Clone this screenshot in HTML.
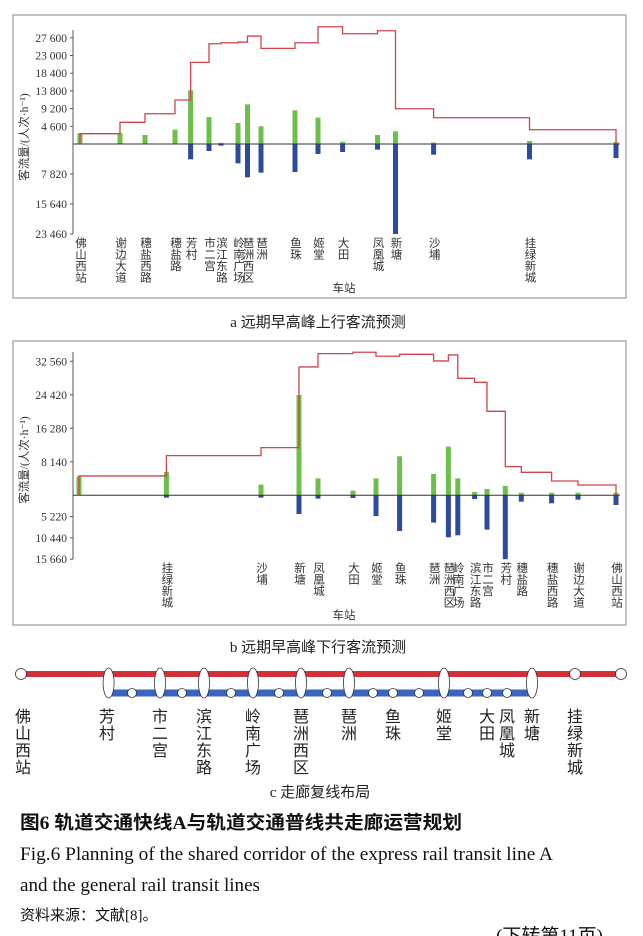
<!DOCTYPE html>
<html><head><meta charset="utf-8">
<style>
html,body{margin:0;padding:0;background:#fff;}
body{width:643px;height:936px;overflow:hidden;position:relative;font-family:"Liberation Serif","Noto Serif CJK SC","Noto Sans CJK SC",serif;}
svg{position:absolute;left:0;top:0;}
.cn{font-family:"Liberation Serif","Noto Sans CJK SC",sans-serif;}
</style></head>
<body>
<svg id="svg" width="643" height="936" viewBox="0 0 643 936"></svg>
<script>
// ---------- Chart a data (up direction) ----------
const aStations = ["佛山西站","谢边大道","穗盐西路","穗盐路","芳村","市二宫","滨江东路","岭南广场","琶洲西区","琶洲","鱼珠","姬堂","大田","凤凰城","新塘","沙埔","挂绿新城",""];
const aBoard = [2780,2900,2340,3710,13950,7010,300,5450,10300,4600,8750,6830,600,2340,3300,400,780,500];
const aAlight = [0,0,0,0,3990,1820,430,5040,8690,7470,7300,2600,2090,1480,23460,2780,4000,3650];
const aSection = [2680,5640,7870,11430,21220,26050,26320,26490,28050,24860,26320,30480,28660,29440,9170,6830,3710];
const aUpTicks = [4600,9200,13800,18400,23000,27600];
const aDownTicks = [7820,15640,23460];
const aUpTickLabels = ["4 600","9 200","13 800","18 400","23 000","27 600"];
const aDownTickLabels = ["7 820","15 640","23 460"];
// ---------- Chart b data (down direction) ----------
const bStations = ["","挂绿新城","沙埔","新塘","凤凰城","大田","姬堂","鱼珠","琶洲","琶洲西区","岭南广场","滨江东路","市二宫","芳村","穗盐路","穗盐西路","谢边大道","佛山西站"];
const bBoard = [4540,5670,2590,24380,4130,1130,4130,9480,5180,11830,4130,800,1540,2270,600,600,600,600];
const bAlight = [0,570,570,4570,820,650,5060,8740,6700,10290,9800,900,8410,15660,1550,1960,1060,2370];
const bSection = [4700,9640,11580,31190,34430,34750,33780,34260,32650,34100,28430,27460,20410,6970,5590,3480,2510];
const bUpTicks = [8140,16280,24420,32560];
const bDownTicks = [5220,10440,15660];
const bUpTickLabels = ["8 140","16 280","24 420","32 560"];
const bDownTickLabels = ["5 220","10 440","15 660"];

// station x positions (layout, px)
const aX=[80,120,145,175,190.6,209,221,238,247.5,261,295,318,342.6,377.5,395.5,433.6,529.5,616];
const bX=[79,166.4,261,299,318,353,376,399.6,433.6,448.4,457.8,474.6,487,505.3,521.3,551.6,578,616];

const NS="http://www.w3.org/2000/svg";
const svg=document.getElementById('svg');
function mk(tag,attrs,parent){const e=document.createElementNS(NS,tag);for(const k in attrs)e.setAttribute(k,attrs[k]);(parent||svg).appendChild(e);return e;}

function drawChart(id,frame,zeroY,upScale,downScale,xs,stations,board,alight,section,upT,upL,downT,downL,axisTop,axisBottom,titleY,xTitleY,capY,caption){
  const g=mk('g',{});
  
  
  const fr=mk('rect',{x:frame[0],y:frame[1],width:frame[2],height:frame[3],fill:'#fff',stroke:'#9a9a9a','stroke-width':1.2},g);
  
  
  const yU=v=>zeroY-v*upScale, yD=v=>zeroY+v*downScale;
  const ax=mk('line',{x1:73,y1:axisTop,x2:73,y2:axisBottom,stroke:'#555','stroke-width':1},g);
  
  
  upT.forEach((v,i)=>{
    mk('line',{x1:70,y1:yU(v),x2:73,y2:yU(v),stroke:'#555'},g);
    const t=mk('text',{x:67,y:yU(v)+4,'text-anchor':'end','font-size':11.5,fill:'#333'},g);t.textContent=upL[i];
    
    
  });
  downT.forEach((v,i)=>{
    mk('line',{x1:70,y1:yD(v),x2:73,y2:yD(v),stroke:'#555'},g);
    const t=mk('text',{x:67,y:yD(v)+4,'text-anchor':'end','font-size':11.5,fill:'#333'},g);t.textContent=downL[i];
    
    
  });
  xs.forEach((x,i)=>{
    if(board[i]>0){const r=mk('rect',{x:x-2.5,y:yU(board[i]),width:5,height:board[i]*upScale,fill:'#6cc04a'},g);
      
      }
    if(alight[i]>0){const r=mk('rect',{x:x-2.5,y:zeroY,width:5,height:alight[i]*downScale,fill:'#2d4b9c'},g);
      
      }
  });
  const zl=mk('line',{x1:73,y1:zeroY,x2:frame[0]+frame[2]-6,y2:zeroY,stroke:'#333','stroke-width':1},g);
  
  
  let d='M'+xs[0]+' '+zeroY;
  section.forEach((v,i)=>{d+=' L'+xs[i]+' '+yU(v)+' L'+xs[i+1]+' '+yU(v);});
  d+=' L'+xs[xs.length-1]+' '+zeroY;
  const p=mk('path',{d:d,fill:'none',stroke:'#d0444e','stroke-width':1.3},g);
  
  
  xs.forEach((x,i)=>{ if(!stations[i])return;
    const t=mk('text',{x:x,y:axisBottom+3,'font-size':11.5,fill:'#333','writing-mode':'tb','glyph-orientation-vertical':0,'class':'cn'},g);
    t.textContent=stations[i];
    
    
  });
  const yt=mk('text',{x:0,y:0,'font-size':11.5,fill:'#333','text-anchor':'middle','class':'cn',transform:'translate(28,'+titleY+') rotate(-90)'},g);
  yt.textContent='客流量/(人次·h⁻¹)';
  
  
  const xt=mk('text',{x:344,y:xTitleY,'font-size':11.5,fill:'#333','text-anchor':'middle','class':'cn'},g);
  xt.textContent='车站';
  
  
  const cp=mk('text',{x:318,y:capY,'font-size':15,fill:'#222','text-anchor':'middle','class':'cn'},g);
  cp.textContent=caption;
  
  
}
drawChart('chart-a-up',[13,15,613,283],144,17.7/4600,30/7820,aX,aStations,aBoard,aAlight,aSection,aUpTicks,aUpTickLabels,aDownTicks,aDownTickLabels,30,234,137,292,327,'a 远期早高峰上行客流预测');
drawChart('chart-b-down',[13,341,613,284],495.3,33.5/8140,21.3/5220,bX,bStations,bBoard,bAlight,bSection,bUpTicks,bUpTickLabels,bDownTicks,bDownTickLabels,352,559,460,619,652,'b 远期早高峰下行客流预测');

// ---------- Panel c: corridor layout ----------
const cg=mk('g',{});


const rl=mk('line',{x1:21,y1:674,x2:621,y2:674,stroke:'#d3303a','stroke-width':6},cg);


const bl=mk('line',{x1:108.6,y1:693,x2:532,y2:693,stroke:'#3a64bf','stroke-width':7},cg);


[132,182,231,279,327,373,393,419,468,487,507].forEach(x=>{const c=mk('circle',{cx:x,cy:693,r:4.5,fill:'#fff',stroke:'#333','stroke-width':0.8},cg);
  
  });
[21,575,621].forEach(x=>{const c=mk('circle',{cx:x,cy:674,r:5.5,fill:'#fff',stroke:'#333','stroke-width':0.8},cg);
  
  });
[108.6,160,204,253,301,349,444,532].forEach(x=>{const e=mk('ellipse',{cx:x,cy:683,rx:5.5,ry:15,fill:'#fff',stroke:'#333','stroke-width':0.8},cg);
  
  });
const cNames=[["佛山西站",23],["芳村",107],["市二宫",160],["滨江东路",204],["岭南广场",253],["琶洲西区",301],["琶洲",349],["鱼珠",393],["姬堂",444],["大田",487],["凤凰城",507],["新塘",532],["挂绿新城",575]];
cNames.forEach(([n,x])=>{
  [...n].forEach((ch,i)=>{const t=mk('text',{x:x,y:722+i*17,'font-size':16,fill:'#222','text-anchor':'middle','class':'cn'},cg);t.textContent=ch;
    
    });
});
const cc=mk('text',{x:320,y:797,'font-size':15,fill:'#222','text-anchor':'middle','class':'cn'},cg);cc.textContent='c 走廊复线布局';



function txt(s,x,y,size,name,extra){const t=mk('text',Object.assign({x:x,y:y,'font-size':size,fill:'#111','class':'cn'},extra||{}));t.textContent=s;
  
  return t;}
txt('图6  轨道交通快线A与轨道交通普线共走廊运营规划',20,829,18.5,'figure-title',{'font-weight':'bold',textLength:442,lengthAdjust:'spacingAndGlyphs'});
txt('Fig.6  Planning of the shared corridor of the express rail transit line A',20,860,18.5,'figure-title-en',{textLength:533,lengthAdjust:'spacingAndGlyphs'});
txt('and the general rail transit lines',20,891,18.5,'figure-title-en-2',{textLength:240,lengthAdjust:'spacingAndGlyphs'});
txt('资料来源：文献[8]。',20,920,15,'source-note');
txt('(下转第11页)',496,942,19,'continued-note');
</script>
</body></html>
